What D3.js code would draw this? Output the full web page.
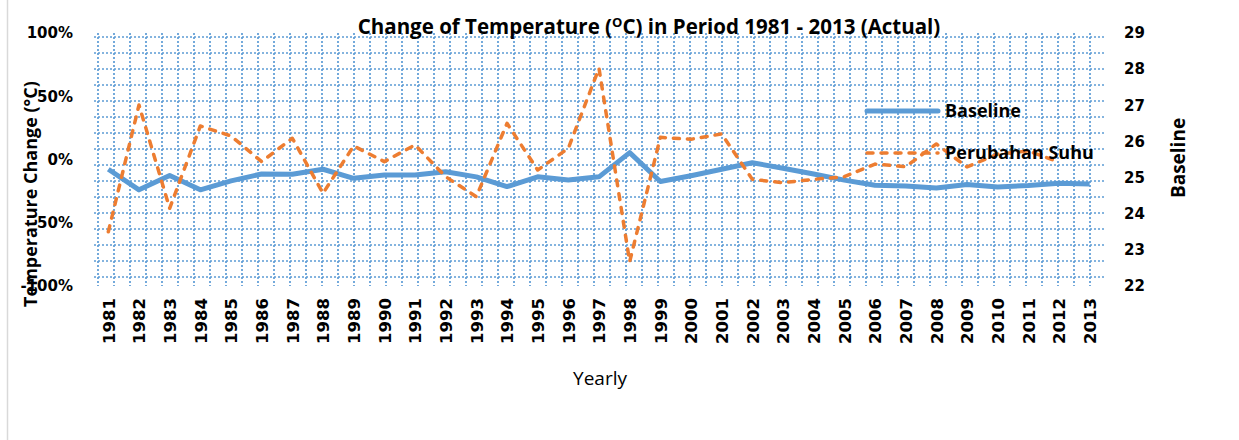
<!DOCTYPE html>
<html>
<head>
<meta charset="utf-8">
<script src="https://cdn.jsdelivr.net/npm/d3@7"></script>
<style>
  body { margin: 0; background: #fff; }
  svg { display: block; }
</style>
</head>
<body>
<script>
// data
var years = ["1981","1982","1983","1984","1985","1986","1987","1988","1989","1990",
  "1991","1992","1993","1994","1995","1996","1997","1998","1999","2000",
  "2001","2002","2003","2004","2005","2006","2007","2008","2009","2010",
  "2011","2012","2013"];
// Baseline temperature (right axis, deg C)
var baseline = [25.23,24.66,25.06,24.66,24.91,25.10,25.09,25.23,24.98,25.07,
  25.07,25.16,25.02,24.75,25.02,24.93,25.02,25.69,24.89,25.05,
  25.23,25.41,25.26,25.10,24.93,24.79,24.77,24.71,24.81,24.74,
  24.78,24.84,24.82];
// Perubahan Suhu (left axis, fraction), last year has no value
var perubahan = [-0.571,0.431,-0.386,0.265,0.186,-0.017,0.168,-0.267,0.107,-0.017,
  0.115,-0.136,-0.294,0.286,-0.083,0.089,0.721,-0.808,0.175,0.160,
  0.202,-0.157,-0.183,-0.157,-0.136,-0.036,-0.057,0.123,-0.059,0.043,
  0.067,-0.020,null];
var leftTicks = [-1, -0.5, 0, 0.5, 1];
var rightTicks = [22, 23, 24, 25, 26, 27, 28, 29];
var seriesNames = ["Baseline", "Perubahan Suhu"];

var W = 1239, H = 440;
var plot = { left: 93, right: 1105, top: 33, bottom: 286 };
var blue = "#5B9BD5", orange = "#ED7D31";

var svg = d3.select("body").append("svg").attr("width", W).attr("height", H);

// chart frame edge on the left
svg.append("line")
  .attr("x1", 7.5).attr("x2", 7.5).attr("y1", 0).attr("y2", H)
  .attr("stroke", "#d9d9d9").attr("stroke-width", 1.5);

// dotted grid pattern fill of the plot area
var defs = svg.append("defs");
var pat = defs.append("pattern")
  .attr("id", "grid")
  .attr("patternUnits", "userSpaceOnUse")
  .attr("x", 90).attr("y", 29)
  .attr("width", 16).attr("height", 16);
pat.append("line")
  .attr("x1", 0).attr("x2", 16).attr("y1", 8).attr("y2", 8)
  .attr("stroke", blue).attr("stroke-width", 1.7).attr("stroke-dasharray", "2,2");
pat.append("line")
  .attr("x1", 8).attr("x2", 8).attr("y1", 0).attr("y2", 16)
  .attr("stroke", blue).attr("stroke-width", 1.7).attr("stroke-dasharray", "2,2");

svg.append("rect")
  .attr("x", plot.left).attr("y", plot.top)
  .attr("width", plot.right - plot.left).attr("height", plot.bottom - plot.top)
  .attr("fill", "url(#grid)");

// scales
var x = d3.scalePoint().domain(years).range([plot.left, plot.right]).padding(0.5);
var yL = d3.scaleLinear().domain([-1, 1]).range([plot.bottom, plot.top]);
var yR = d3.scaleLinear().domain([22, 29]).range([plot.bottom, plot.top]);

// axes
var tickFont = "'DejaVu Sans', sans-serif";
var gx = svg.append("g")
  .attr("transform", "translate(0," + plot.bottom + ")")
  .call(d3.axisBottom(x).tickSize(0).tickPadding(0));
gx.select(".domain").remove();
gx.selectAll("text")
  .attr("transform", "rotate(-90)")
  .attr("x", -12).attr("y", 0).attr("dy", "0.36em")
  .style("text-anchor", "end")
  .style("font-family", tickFont).style("font-weight", "bold")
  .style("font-size", "16.5px").style("fill", "#000");

var gl = svg.append("g")
  .attr("transform", "translate(" + plot.left + ",0)")
  .call(d3.axisLeft(yL).tickValues(leftTicks).tickSize(0).tickPadding(20)
    .tickFormat(function (d) { return Math.round(d * 100) + "%"; }));
gl.select(".domain").remove();
gl.selectAll("text")
  .style("font-family", tickFont).style("font-weight", "bold")
  .style("font-size", "15px").style("fill", "#000");

var gr = svg.append("g")
  .attr("transform", "translate(" + plot.right + ",0)")
  .call(d3.axisRight(yR).tickValues(rightTicks).tickSize(0).tickPadding(19)
    .tickFormat(d3.format("d")));
gr.select(".domain").remove();
gr.selectAll("text")
  .style("font-family", tickFont).style("font-weight", "bold")
  .style("font-size", "15px").style("fill", "#000");

// lines
var lineBase = d3.line()
  .x(function (d, i) { return x(years[i]); })
  .y(function (d) { return yR(d); });
var lineChange = d3.line()
  .defined(function (d) { return d !== null; })
  .x(function (d, i) { return x(years[i]); })
  .y(function (d) { return yL(d); });

svg.append("path")
  .datum(baseline)
  .attr("d", lineBase)
  .attr("fill", "none").attr("stroke", blue)
  .attr("stroke-width", 5).attr("stroke-linejoin", "round");

svg.append("path")
  .datum(perubahan)
  .attr("d", lineChange)
  .attr("fill", "none").attr("stroke", orange)
  .attr("stroke-width", 3.5).attr("stroke-dasharray", "6,8")
  .attr("stroke-linecap", "round").attr("stroke-linejoin", "round");

// legend
var textFont = "'Open Sans', sans-serif";
var legend = svg.append("g").attr("transform", "translate(867,111)");
seriesNames.forEach(function (name, i) {
  var g = legend.append("g").attr("transform", "translate(0," + i * 42 + ")");
  g.append("line")
    .attr("x1", 0).attr("x2", 71).attr("y1", 0).attr("y2", 0)
    .attr("stroke", i === 0 ? blue : orange)
    .attr("stroke-width", i === 0 ? 5 : 3.5)
    .attr("stroke-dasharray", i === 0 ? null : "6,8")
    .attr("stroke-linecap", "round");
  g.append("text")
    .attr("x", 78).attr("y", 0).attr("dy", "0.35em")
    .style("font-family", textFont).style("font-weight", "bold")
    .style("font-size", "18px").text(name);
});

// title
var title = svg.append("text")
  .attr("x", 649).attr("y", 34)
  .style("text-anchor", "middle")
  .style("font-family", textFont).style("font-weight", "bold")
  .style("font-size", "20.5px");
title.append("tspan").text("Change of Temperature (");
title.append("tspan").attr("dy", -7).style("font-size", "13px").text("O");
title.append("tspan").attr("dy", 7).text("C) in Period 1981 - 2013 (Actual)");

// axis titles
svg.append("text")
  .attr("transform", "translate(37,194) rotate(-90)")
  .style("text-anchor", "middle")
  .style("font-family", textFont).style("font-weight", "bold")
  .style("font-size", "18px")
  .text("Temperature Change (\u00B0C)");

svg.append("text")
  .attr("transform", "translate(1185,158) rotate(-90)")
  .style("text-anchor", "middle")
  .style("font-family", textFont).style("font-weight", "bold")
  .style("font-size", "19px")
  .text("Baseline");

svg.append("text")
  .attr("x", 600).attr("y", 385)
  .style("text-anchor", "middle")
  .style("font-family", textFont)
  .style("font-size", "19px")
  .text("Yearly");
</script>
</body>
</html>
